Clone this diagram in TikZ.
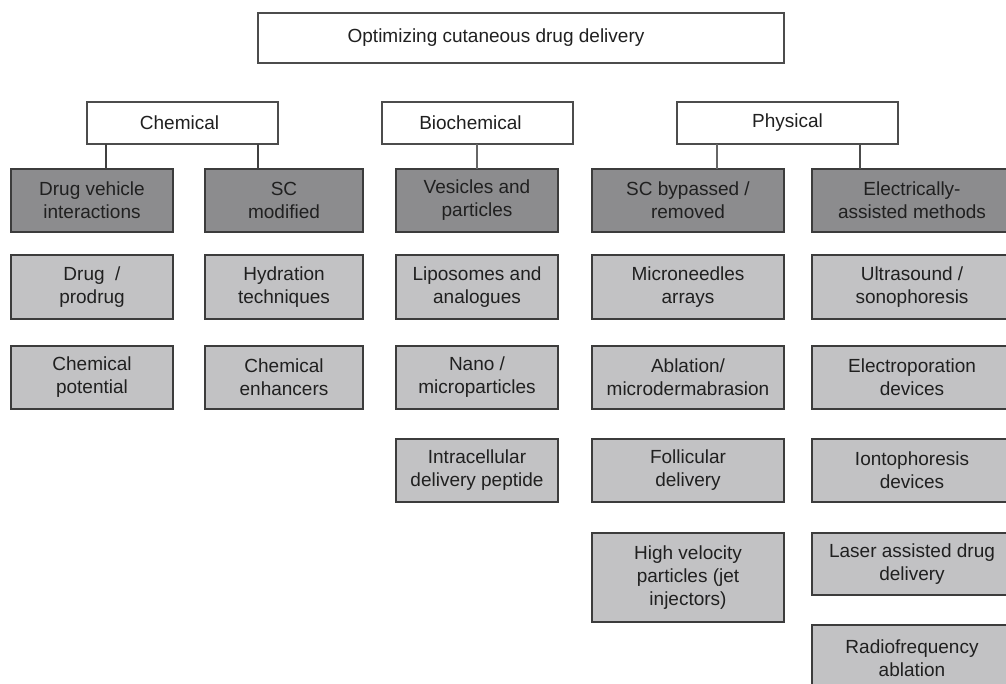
\documentclass[tikz,border=0pt]{standalone}
\usepackage{fontspec}
\setmainfont{Liberation Sans}
\definecolor{darkfill}{HTML}{8C8C8E}
\definecolor{lightfill}{HTML}{C2C2C4}
\definecolor{edge}{HTML}{3C3C3C}
\definecolor{txt}{HTML}{202020}
\newcommand{\bx}[7]{\node[#6, minimum width={(#4-#2)*1pt}, minimum height={(#5-#3)*1pt}] (#1) at ({(#2+#4)/2},{(#3+#5)/2}) {#7};}
\tikzset{
  base/.style={draw=edge, line width=1.4pt, inner sep=0pt, outer sep=0pt, align=center, text=txt, font=\fontsize{19}{23}\selectfont},
  topbox/.style={base, fill=white, draw=black!70},
  lvl1/.style={base, fill=darkfill},
  lvl2/.style={base, fill=lightfill},
  conn/.style={draw=black!75, line width=1.4pt}
}
\begin{document}
\begin{tikzpicture}[x=1pt,y=-1pt]
\useasboundingbox (0,0) rectangle (1006,684);
\clip (0,0) rectangle (1006,684);
% top and categories
\bx{root}{258}{13}{784}{63}{topbox}{Optimizing cutaneous drug delivery\hspace*{50pt}}
\bx{chem}{87}{102}{278}{144}{topbox}{Chemical\hspace*{6pt}}
\bx{bioc}{382}{102}{573}{144}{topbox}{Biochemical\hspace*{14pt}}
\bx{phys}{677}{102}{898}{144}{topbox}{Physical}
% level 1
\bx{dv}{11}{169}{173}{232}{lvl1}{Drug vehicle\\interactions}
\bx{scm}{205}{169}{363}{232}{lvl1}{SC\\modified}
\bx{ves}{396}{169}{558}{232}{lvl1}{Vesicles and\\particles}
\bx{scb}{592}{169}{784}{232}{lvl1}{SC bypassed /\\removed}
\bx{ele}{812}{169}{1012}{232}{lvl1}{Electrically-\\assisted methods}
% column 1
\bx{dp}{11}{255}{173}{319}{lvl2}{Drug \ /\\prodrug}
\bx{cp}{11}{346}{173}{409}{lvl2}{Chemical\\potential}
% column 2
\bx{hyd}{205}{255}{363}{319}{lvl2}{Hydration\\techniques}
\bx{ce}{205}{346}{363}{409}{lvl2}{Chemical\\enhancers}
% column 3
\bx{lip}{396}{255}{558}{319}{lvl2}{Liposomes and\\analogues}
\bx{nano}{396}{346}{558}{409}{lvl2}{Nano /\\microparticles}
\bx{intra}{396}{439}{558}{502}{lvl2}{Intracellular\\delivery peptide}
% column 4
\bx{mn}{592}{255}{784}{319}{lvl2}{Microneedles\\arrays}
\bx{abl}{592}{346}{784}{409}{lvl2}{Ablation/\\microdermabrasion}
\bx{fol}{592}{439}{784}{502}{lvl2}{Follicular\\delivery}
\bx{hv}{592}{533}{784}{622}{lvl2}{High velocity\\particles (jet\\injectors)}
% column 5
\bx{us}{812}{255}{1012}{319}{lvl2}{Ultrasound /\\sonophoresis}
\bx{ep}{812}{346}{1012}{409}{lvl2}{Electroporation\\devices}
\bx{ion}{812}{439}{1012}{502}{lvl2}{Iontophoresis\\devices}
\bx{las}{812}{533}{1012}{595}{lvl2}{Laser assisted drug\\delivery}
\bx{rf}{812}{625}{1012}{692}{lvl2}{Radiofrequency\\ablation}
% connector x positions
\coordinate (x1) at (106,0);
\coordinate (x2) at (258,0);
\coordinate (x3) at (477,0);
\coordinate (x4) at (717,0);
\coordinate (x5) at (860,0);
\draw[conn] (chem.south -| x1) -- (dv.north -| x1);
\draw[conn] (chem.south -| x2) -- (scm.north -| x2);
\draw[conn, draw=black!60] (bioc.south -| x3) -- (ves.north -| x3);
\draw[conn, draw=black!60] (phys.south -| x4) -- (scb.north -| x4);
\draw[conn, draw=black!70] (phys.south -| x5) -- (ele.north -| x5);
\end{tikzpicture}
\end{document}
